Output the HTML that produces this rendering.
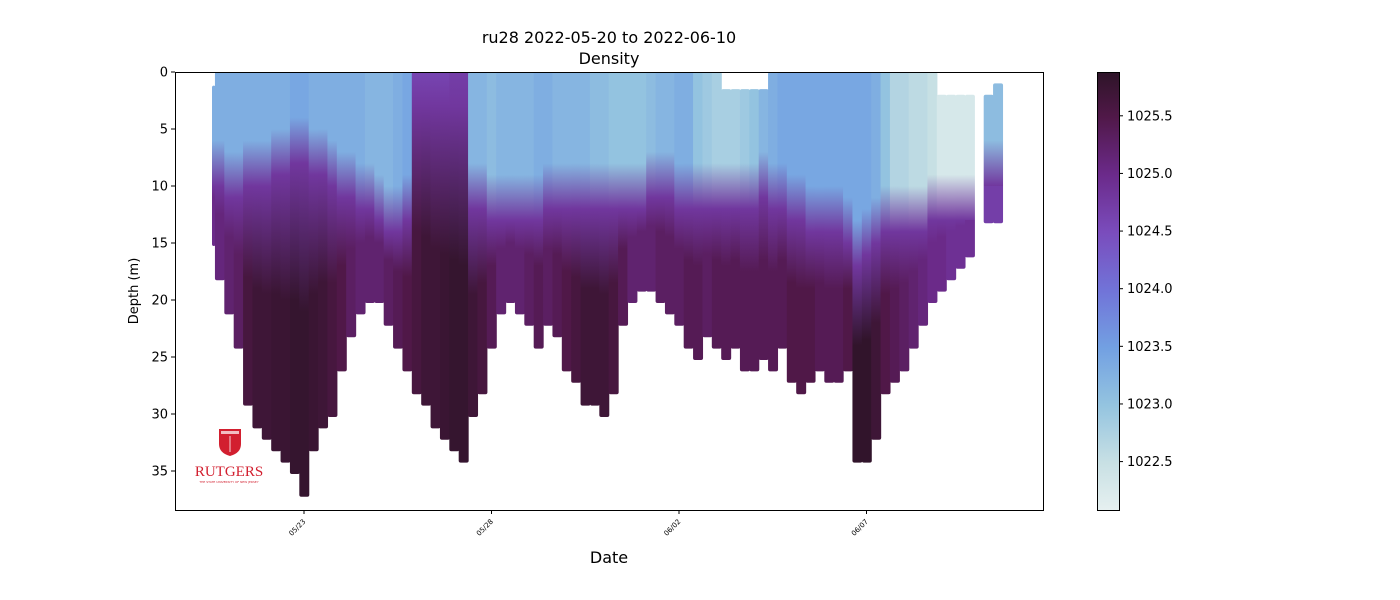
<!DOCTYPE html>
<html><head><meta charset="utf-8"><style>
html,body{margin:0;padding:0;background:#fff;}
svg{display:block;font-family:"DejaVu Sans","Liberation Sans",sans-serif;}
</style></head><body>
<svg id="chart" width="1400" height="600" viewBox="0 0 1400 600" xmlns="http://www.w3.org/2000/svg">
<defs id="defs">
<linearGradient id="cbar" x1="0" y1="1" x2="0" y2="0">
<stop offset="0" stop-color="#e6f0f0"/><stop offset="0.109" stop-color="#c8e0e4"/><stop offset="0.24" stop-color="#94c4e0"/><stop offset="0.372" stop-color="#72a0e2"/><stop offset="0.504" stop-color="#7173d8"/><stop offset="0.636" stop-color="#7a4cbc"/><stop offset="0.767" stop-color="#6b2a8a"/><stop offset="0.899" stop-color="#501848"/><stop offset="1" stop-color="#2e1428"/>
</linearGradient>
<clipPath id="plotclip"><rect x="175" y="72" width="868" height="438"/></clipPath>
</defs>
<text x="609" y="43" font-size="16" text-anchor="middle">ru28 2022-05-20 to 2022-06-10</text>
<text x="609" y="64" font-size="16" text-anchor="middle">Density</text>
<g id="marks" clip-path="url(#plotclip)"></g>
<rect x="175.5" y="72.5" width="868" height="438" fill="none" stroke="#000" stroke-width="1"/>
<g id="yaxis"></g>
<g id="xaxis"></g>
<text transform="translate(138,291) rotate(-90)" font-size="13" text-anchor="middle">Depth (m)</text>
<text x="609" y="563" font-size="16" text-anchor="middle">Date</text>
<g>
<path d="M219 429 h22 v15 q0 9 -11 12 q-11 -3 -11 -12 z" fill="#d21f2f"/>
<rect x="221" y="431" width="18" height="3" fill="#fff" opacity="0.7"/>
<line x1="230" y1="436" x2="230" y2="452" stroke="#fff" stroke-width="0.8"/>
<text x="229" y="476" font-family="Liberation Serif,serif" font-size="15" fill="#d21f2f" text-anchor="middle">RUTGERS</text>
<text x="229" y="483" font-size="3" fill="#d21f2f" text-anchor="middle">THE STATE UNIVERSITY OF NEW JERSEY</text>
</g>
<rect x="1097.5" y="72.5" width="22" height="438" fill="url(#cbar)" stroke="#000" stroke-width="1"/>
<g id="cbaxis"></g>
</svg>
<script>
// ---- data (time in days from 2022-05-23 00:00, depths in m, density in kg/m3) ----
const binTimes = [-2.5,-2.25,-2,-1.75,-1.5,-1.25,-1,-0.75,-0.5,-0.25,0,0.25,0.5,0.75,1,1.25,1.5,1.75,2,2.25,2.5,2.75,3,3.25,3.5,3.75,4,4.25,4.5,4.75,5,5.25,5.5,5.75,6,6.25,6.5,6.75,7,7.25,7.5,7.75,8,8.25,8.5,8.75,9,9.25,9.5,9.75,10,10.25,10.5,10.75,11,11.25,11.5,11.75,12,12.25,12.5,12.75,13,13.25,13.5,13.75,14,14.25,14.5,14.75,15,15.25,15.5,15.75,16,16.25,16.5,16.75,17,17.25,17.5,17.75,18.25,18.5];
const topDepth = [1.2,0,0,0,0,0,0,0,0,0,0,0,0,0,0,0,0,0,0,0,0,0,0,0,0,0,0,0,0,0,0,0,0,0,0,0,0,0,0,0,0,0,0,0,0,0,0,0,0,0,0,0,0,0,0,1.5,1.5,1.5,1.5,1.5,0,0,0,0,0,0,0,0,0,0,0,0,0,0,0,0,0,0,2,2,2,2,2,1];
const mixedLayer = [7,7,8,8,7,7,7,6,6,5,5,6,6,7,8,8,9,9,10,11,11,10,0,0,0,0,0,0,9,9,10,10,10,10,10,10,9,9,9,9,9,9,9,9,9,9,9,8,8,8,9,9,9,9,9,9,9,9,9,8,9,9,10,10,11,11,11,11,12,14,13,12,11,11,11,11,11,10,10,10,10,10,7,7];
const maxDepth = [15,18,21,24,29,31,32,33,34,35,37,33,31,30,26,23,21,20,20,22,24,26,28,29,31,32,33,34,30,28,24,21,20,21,22,24,22,23,26,27,29,29,30,28,22,20,19,19,20,21,22,24,25,23,24,25,24,26,26,25,26,24,27,28,27,26,27,27,26,34,34,32,28,27,26,24,22,20,19,18,17,16,13,13];
const surfDensity = [1023.3,1023.3,1023.3,1023.3,1023.3,1023.3,1023.3,1023.3,1023.3,1023.4,1023.4,1023.3,1023.3,1023.3,1023.3,1023.3,1023.3,1023.2,1023.2,1023.2,1023.3,1023.4,1024.6,1024.6,1024.6,1024.6,1024.7,1024.7,1023.2,1023.2,1023.1,1023.2,1023.2,1023.2,1023.2,1023.3,1023.3,1023.2,1023.2,1023.2,1023.2,1023.1,1023.1,1023.0,1023.0,1023.0,1023.0,1023.1,1023.2,1023.2,1023.3,1023.3,1023.0,1022.9,1022.8,1022.8,1022.8,1022.9,1023.0,1023.2,1023.3,1023.4,1023.4,1023.4,1023.4,1023.4,1023.4,1023.4,1023.4,1023.4,1023.4,1023.3,1023.0,1022.7,1022.7,1022.6,1022.6,1022.5,1022.3,1022.3,1022.3,1022.3,1023.1,1023.1];
const deepDensity = [1025.0,1025.1,1025.2,1025.3,1025.6,1025.7,1025.7,1025.75,1025.75,1025.8,1025.8,1025.75,1025.7,1025.6,1025.5,1025.3,1025.2,1025.2,1025.2,1025.3,1025.4,1025.5,1025.6,1025.7,1025.7,1025.75,1025.8,1025.8,1025.7,1025.6,1025.4,1025.2,1025.2,1025.2,1025.3,1025.4,1025.3,1025.4,1025.5,1025.6,1025.7,1025.7,1025.7,1025.6,1025.4,1025.2,1025.2,1025.2,1025.3,1025.3,1025.3,1025.4,1025.4,1025.3,1025.4,1025.4,1025.4,1025.4,1025.4,1025.4,1025.4,1025.4,1025.5,1025.5,1025.5,1025.4,1025.4,1025.4,1025.5,1025.85,1025.85,1025.7,1025.5,1025.4,1025.3,1025.2,1025.1,1025.0,1025.0,1024.9,1024.9,1024.9,1024.7,1024.7];
const xTickDays = [0,5,10,15];
const xTickLabels = ["05/23","05/28","06/02","06/07"];
const yTicks = [0,5,10,15,20,25,30,35];
const cbTicks = [1022.5,1023.0,1023.5,1024.0,1024.5,1025.0,1025.5];

// ---- scales ----
const NS="http://www.w3.org/2000/svg";
const X = d => 304 + 37.5*d;
const Y = m => 72 + 11.4*m;
const RMIN=1022.08, RMAX=1025.88;
const CBY = r => 510 - (r-RMIN)/(RMAX-RMIN)*438;
const cstops=[[0,[230,240,240]],[0.109,[200,224,228]],[0.24,[148,196,224]],[0.372,[114,160,226]],[0.504,[113,115,216]],[0.636,[122,76,188]],[0.767,[107,42,138]],[0.899,[80,24,72]],[1,[46,20,40]]];
function cmap(r){
  let t=Math.max(0,Math.min(1,(r-RMIN)/(RMAX-RMIN)));
  for(let i=1;i<cstops.length;i++){
    if(t<=cstops[i][0]){
      const a=cstops[i-1],b=cstops[i],f=(t-a[0])/(b[0]-a[0]);
      const c=a[1].map((v,k)=>Math.round(v+(b[1][k]-v)*f));
      return `rgb(${c[0]},${c[1]},${c[2]})`;
    }
  }
  return 'rgb(46,20,40)';
}
function el(tag,attrs,parent){const e=document.createElementNS(NS,tag);for(const k in attrs)e.setAttribute(k,attrs[k]);parent.appendChild(e);return e;}

const defs=document.getElementById('defs');
const marks=document.getElementById('marks');
const halfW=37.5*0.125;
for(let i=0;i<binTimes.length;i++){
  let x0=X(binTimes[i])-halfW;
  const x1=X(binTimes[i])+halfW+0.6;
  if(i===0) x0=Math.max(x0,212);
  const top=topDepth[i], bot=maxDepth[i], mld=mixedLayer[i];
  const g=el('linearGradient',{id:'g'+i,gradientUnits:'userSpaceOnUse',x1:0,x2:0,y1:Y(top),y2:Y(bot)},defs);
  const span=bot-top;
  const off=m=>Math.max(0,Math.min(1,(m-top)/span)).toFixed(3);
  const mid=1024.8;
  const stops=[[0,surfDensity[i]],[off(Math.max(top,mld-1)),surfDensity[i]],[off(mld+3),Math.max(mid,surfDensity[i])],[off(mld+(bot-mld)*0.5),deepDensity[i]],[1,deepDensity[i]]];
  stops.forEach(s=>el('stop',{offset:s[0],'stop-color':cmap(s[1])},g));
  const r=el('rect',{x:x0.toFixed(2),y:Y(top).toFixed(2),width:(x1-x0).toFixed(2),height:(Y(bot)-Y(top)+3).toFixed(2),fill:`url(#g${i})`,rx:2},marks);
  
  
}

const ya=document.getElementById('yaxis');
yTicks.forEach(v=>{
  const y=Y(v);
  el('line',{x1:171,x2:175,y1:y,y2:y,stroke:'#000'},ya);
  const t=el('text',{x:168,y:y+4.5,'font-size':13,'text-anchor':'end'},ya);
  t.textContent=v;
  
  
});
const xa=document.getElementById('xaxis');
xTickDays.forEach((d,i)=>{
  const x=X(d);
  el('line',{x1:x,x2:x,y1:510,y2:514,stroke:'#000'},xa);
  const t=el('text',{x:x+2,y:522,'font-size':7,'text-anchor':'end',transform:`rotate(-45 ${x+2} 522)`},xa);
  t.textContent=xTickLabels[i];
  
  
});
const ca=document.getElementById('cbaxis');
cbTicks.forEach(v=>{
  const y=CBY(v);
  el('line',{x1:1119,x2:1123,y1:y,y2:y,stroke:'#000'},ca);
  const t=el('text',{x:1127,y:y+4.5,'font-size':13},ca);
  t.textContent=v.toFixed(1);
  
  
});
</script>
</body></html>
